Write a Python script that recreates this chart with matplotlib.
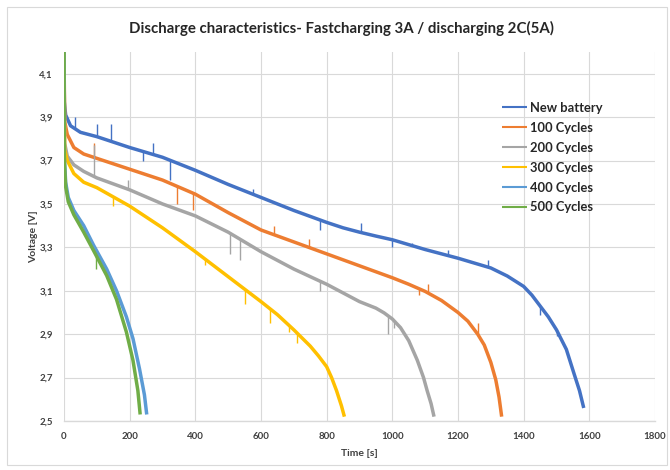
import matplotlib
matplotlib.use("Agg")
import matplotlib.pyplot as plt
import numpy as np
from matplotlib.patches import Rectangle

plt.rcParams['font.family'] = ['Lato', 'DejaVu Sans']

# Discharge curves: time [s] and voltage [V] per cycle count
new_t = [0, 1, 5, 20, 50, 100, 140, 200, 300, 400, 500, 600, 700, 800, 850, 900, 950,
         1000, 1100, 1200, 1300, 1350, 1400, 1425, 1450, 1475, 1500, 1530, 1553, 1570, 1583]
new_v = [4.20, 3.97, 3.91, 3.86, 3.83, 3.81, 3.79, 3.76, 3.715, 3.655, 3.59, 3.53, 3.47,
         3.415, 3.39, 3.37, 3.352, 3.335, 3.29, 3.25, 3.205, 3.168, 3.12, 3.08, 3.03, 2.98,
         2.92, 2.83, 2.72, 2.64, 2.56]

c100_t = [0, 2, 10, 30, 60, 100, 200, 300, 400, 500, 600, 700, 800, 900, 1000, 1050, 1100,
          1150, 1200, 1230, 1260, 1280, 1300, 1315, 1325, 1333]
c100_v = [4.20, 3.88, 3.82, 3.76, 3.73, 3.71, 3.66, 3.61, 3.545, 3.46, 3.38, 3.325, 3.27,
          3.215, 3.16, 3.13, 3.097, 3.055, 3.00, 2.96, 2.90, 2.85, 2.77, 2.69, 2.61, 2.52]

c200_t = [0, 2, 10, 30, 60, 100, 200, 300, 400, 500, 600, 700, 800, 900, 950, 975, 1000,
          1025, 1050, 1076, 1095, 1106, 1118, 1127]
c200_v = [4.20, 3.78, 3.72, 3.68, 3.65, 3.62, 3.565, 3.50, 3.445, 3.37, 3.28, 3.20, 3.13,
          3.05, 3.02, 2.998, 2.97, 2.93, 2.87, 2.78, 2.70, 2.64, 2.58, 2.52]

c300_t = [0, 2, 10, 30, 60, 100, 200, 300, 400, 500, 600, 650, 700, 750, 775, 800, 815,
          830, 845, 854]
c300_v = [4.20, 3.75, 3.70, 3.64, 3.60, 3.575, 3.49, 3.39, 3.28, 3.165, 3.05, 2.99, 2.92,
          2.845, 2.80, 2.75, 2.70, 2.64, 2.57, 2.52]

c400_t = [0, 1, 5, 13, 30, 60, 90, 130, 160, 190, 210, 230, 245, 252]
c400_v = [4.20, 3.72, 3.60, 3.53, 3.47, 3.40, 3.31, 3.20, 3.10, 2.98, 2.88, 2.74, 2.62, 2.53]

c500_t = [0, 1, 5, 13, 30, 60, 90, 130, 160, 190, 210, 225, 232]
c500_v = [4.20, 3.70, 3.58, 3.51, 3.45, 3.37, 3.285, 3.17, 3.06, 2.91, 2.78, 2.64, 2.53]

# Single-sample voltage spikes: time [s] and peak voltage [V]
new_spk_t = [34, 102, 142, 241, 272, 323, 575, 780, 905, 1000, 1060, 1170, 1240, 1290, 1450, 1500]
new_spk_v = [3.90, 3.87, 3.87, 3.70, 3.78, 3.61, 3.57, 3.38, 3.41, 3.30, 3.32, 3.29, 3.23,
             3.24, 2.99, 2.89]
c100_spk_t = [90, 344, 394, 640, 745, 1080, 1110, 1260]
c100_spk_v = [3.78, 3.50, 3.47, 3.40, 3.34, 3.08, 3.13, 2.95]
c200_spk_t = [90, 196, 507, 537, 780, 987, 1005]
c200_spk_v = [3.77, 3.61, 3.27, 3.24, 3.10, 2.90, 2.93]
c300_spk_t = [150, 430, 552, 628, 684, 710]
c300_spk_v = [3.49, 3.22, 3.04, 2.95, 2.91, 2.86]
c500_spk_t = [97]
c500_spk_v = [3.20]

labels = ["New battery", "100 Cycles", "200 Cycles", "300 Cycles", "400 Cycles", "500 Cycles"]
colors = ["#4472C4", "#ED7D31", "#A5A5A5", "#FFC000", "#5B9BD5", "#70AD47"]
series = [(new_t, new_v), (c100_t, c100_v), (c200_t, c200_v),
          (c300_t, c300_v), (c400_t, c400_v), (c500_t, c500_v)]
spikes = [(new_spk_t, new_spk_v), (c100_spk_t, c100_spk_v), (c200_spk_t, c200_spk_v),
          (c300_spk_t, c300_spk_v), ([], []), (c500_spk_t, c500_spk_v)]

x_ticks = list(range(0, 1801, 200))
y_ticks = [2.5, 2.7, 2.9, 3.1, 3.3, 3.5, 3.7, 3.9, 4.1]
y_tick_labels = ["2,5", "2,7", "2,9", "3,1", "3,3", "3,5", "3,7", "3,9", "4,1"]

text_col = "#404040"
grid_col = "#D9D9D9"

fig = plt.figure(figsize=(6.7, 4.7), dpi=100)
fig.patch.set_facecolor("white")
fig.patches.append(Rectangle((7 / 670, 1 - 465 / 470), 660 / 670, 458 / 470,
                             transform=fig.transFigure, fill=False,
                             edgecolor="#D9D9D9", linewidth=0.8))

ax = fig.add_axes([64 / 670, 1 - 421 / 470, (655 - 64) / 670, (421 - 52) / 470])

for (t, v), (st, sv), lab, col in zip(series, spikes, labels, colors):
    ax.plot(t, v, color=col, linewidth=2.5, label=lab, solid_joinstyle="round",
            solid_capstyle="butt")
    if st:
        base = np.interp(st, t, v)
        ax.vlines(st, base, sv, color=col, linewidth=1.0)

ax.set_xlim(0, 1800)
ax.set_ylim(2.5, 4.2)
ax.set_xticks(x_ticks)
ax.set_xticklabels([str(x) for x in x_ticks])
ax.set_yticks(y_ticks)
ax.set_yticklabels(y_tick_labels)
ax.grid(True, color=grid_col, linewidth=0.8)
ax.set_axisbelow(True)
for side in ("top", "right", "left"):
    ax.spines[side].set_visible(False)
ax.spines["bottom"].set_color(grid_col)
ax.spines["bottom"].set_linewidth(1.0)
ax.tick_params(length=0, labelsize=7, labelcolor=text_col, pad=8)
for lbl in ax.get_xticklabels() + ax.get_yticklabels():
    lbl.set_fontweight("bold")

ax.set_xlabel("Time [s]", fontsize=7.5, fontweight="bold", color=text_col, labelpad=6)
ax.set_ylabel("Voltage [V]", fontsize=7.5, fontweight="bold", color=text_col, labelpad=1)

fig.text(341 / 670, 1 - 28 / 470,
         "Discharge characteristics- Fastcharging 3A / discharging 2C(5A)",
         ha="center", va="center", fontsize=10.8, fontweight="bold", color="#262626")

leg = ax.legend(loc="upper left", bbox_to_anchor=((502 - 64) / 591, 1 - (102 - 52) / 369),
                frameon=False, fontsize=9.3, handlelength=1.9, handletextpad=0.25,
                labelspacing=0.61, borderaxespad=0, borderpad=0)
for line in leg.get_lines():
    line.set_linewidth(1.5)
for txt in leg.get_texts():
    txt.set_fontweight("bold")
    txt.set_color("#262626")

fig.savefig("out.png", dpi=100)
